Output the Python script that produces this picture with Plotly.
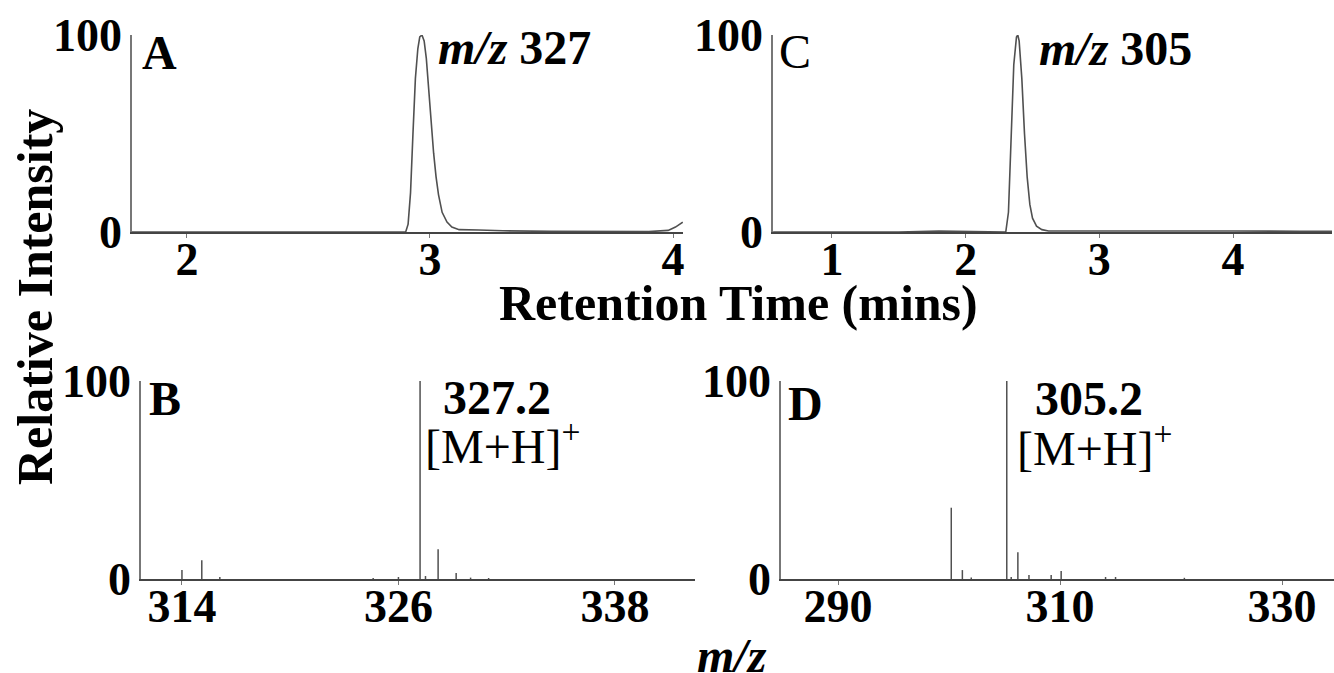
import plotly.graph_objects as go

W, H = 1334, 673

# ---- Data ----
# Panel A: chromatogram m/z 327
rt_a = [1.77, 2.5, 2.90, 2.91, 2.92, 2.93, 2.94, 2.95, 2.958, 2.967, 2.976, 2.985, 2.995,
        3.005, 3.015, 3.025, 3.035, 3.05, 3.07, 3.09, 3.12, 3.20, 3.30, 3.50, 3.90, 3.98, 4.01, 4.04]
int_a = [0, 0, 0, 4, 20, 50, 78, 93, 99, 100, 97, 88, 72,
         55, 40, 28, 19, 10, 5, 2.5, 1.2, 1.0, 0.6, 0.3, 0.2, 0.8, 2.5, 5]

# Panel C: chromatogram m/z 305
rt_c = [0.56, 1.5, 1.8, 2.0, 2.30, 2.32, 2.34, 2.36, 2.38, 2.39, 2.40, 2.42, 2.44, 2.46,
        2.48, 2.50, 2.53, 2.57, 2.62, 3.0, 3.5, 4.0, 4.5, 4.74]
int_c = [0, 0, 0.5, 0.3, 0, 10, 48, 85, 99, 100, 97, 78, 50, 28,
         14, 7, 3, 1.2, 0.5, 0.4, 0.6, 0.5, 0.4, 0.3]

# Panel B: mass spectrum (m/z, relative intensity)
mz_b = [314.0, 315.1, 316.1, 324.6, 326.0, 327.2, 327.5, 328.2, 329.2, 330.0, 331.0]
ab_b = [4.5, 9.5, 1.0, 0.5, 1.0, 100, 1.5, 15, 3, 0.7, 0.5]

# Panel D: mass spectrum
mz_d = [300.2, 301.2, 302.0, 305.2, 305.6, 306.2, 307.2, 309.2, 310.1, 314.1, 315.0, 321.2]
ab_d = [36, 4.5, 0.8, 100, 1.0, 13.5, 2.0, 2.0, 4.0, 1.0, 1.0, 0.6]

ticks_a = [2, 3, 4]
ticks_c = [1, 2, 3, 4]
ticks_b = [314, 326, 338]
ticks_d = [290, 310, 330]
yticks = [0, 100]

FONT = "Liberation Serif"
LINE = "#505050"


def px_x(p):
    return p / W


def px_y(p):
    return 1 - p / H


def sticks(xs, ys):
    sx, sy = [], []
    for m, v in zip(xs, ys):
        sx += [m, m, None]
        sy += [0, v, None]
    return sx, sy


fig = go.Figure()

fig.add_trace(go.Scatter(x=rt_a, y=int_a, mode="lines", line=dict(color=LINE, width=1.6),
                         xaxis="x", yaxis="y", showlegend=False))
fig.add_trace(go.Scatter(x=rt_c, y=int_c, mode="lines", line=dict(color=LINE, width=1.6),
                         xaxis="x2", yaxis="y2", showlegend=False))
bx, by = sticks(mz_b, ab_b)
fig.add_trace(go.Scatter(x=bx, y=by, mode="lines", line=dict(color=LINE, width=1.5),
                         xaxis="x3", yaxis="y3", showlegend=False))
dx, dy = sticks(mz_d, ab_d)
fig.add_trace(go.Scatter(x=dx, y=dy, mode="lines", line=dict(color=LINE, width=1.5),
                         xaxis="x4", yaxis="y4", showlegend=False))

tickfont = dict(family=FONT, size=46, color="black", weight="bold")


def xaxis(dom, rng, tv, anchor):
    return dict(domain=dom, range=rng, tickvals=tv, ticktext=[str(t) for t in tv],
                showgrid=False, zeroline=False, showline=True, linecolor="#444444", linewidth=2,
                ticks="outside", ticklen=4, tickcolor="#777777", tickwidth=1,
                tickfont=tickfont, anchor=anchor, fixedrange=True, automargin=False,
                ticklabelstandoff=-18)


def yaxis(dom, anchor):
    return dict(domain=dom, range=[0, 100], tickvals=yticks, ticktext=[str(t) for t in yticks],
                showgrid=False, zeroline=False, showline=True, linecolor="#777777", linewidth=1.5,
                ticks="", tickfont=tickfont, anchor=anchor, fixedrange=True, automargin=False,
                ticklabelstandoff=-1)


top_dom = [px_y(232), px_y(35)]
bot_dom = [px_y(579), px_y(381)]

fig.update_layout(
    template="none",
    width=W, height=H,
    margin=dict(l=0, r=0, t=0, b=0, pad=0, autoexpand=False),
    paper_bgcolor="white", plot_bgcolor="white",
    xaxis=xaxis([px_x(132), px_x(683)], [1.774, 4.041], ticks_a, "y"),
    yaxis=yaxis(top_dom, "x"),
    xaxis2=xaxis([px_x(773), px_x(1332)], [0.559, 4.74], ticks_c, "y2"),
    yaxis2=yaxis(top_dom, "x2"),
    xaxis3=xaxis([px_x(141), px_x(695)], [311.73, 342.44], ticks_b, "y3"),
    yaxis3=yaxis(bot_dom, "x3"),
    xaxis4=xaxis([px_x(781), px_x(1334)], [284.86, 334.68], ticks_d, "y4"),
    yaxis4=yaxis(bot_dom, "x4"),
)


def ann(text, xl, yc, size=48, bold=True, xanchor="left", angle=0):
    fig.add_annotation(text=text, x=px_x(xl), y=px_y(yc), xref="paper", yref="paper",
                       xanchor=xanchor, yanchor="middle", showarrow=False, textangle=angle,
                       font=dict(family=FONT, size=size, color="black",
                                 weight="bold" if bold else "normal"))


ann("A", 140, 53)
ann("<i>m/z</i> 327", 436, 48)
ann("C", 777, 52, bold=False)
ann("<i>m/z</i> 305", 1037, 49)
ann("Retention Time (mins)", 738, 303, size=50, xanchor="center")
ann("B", 147, 398)
ann("327.2", 441, 397)
ann("[M+H]<sup>+</sup>", 423, 443, bold=False)
ann("D", 786, 403)
ann("305.2", 1033, 398)
ann("[M+H]<sup>+</sup>", 1015, 445, bold=False)
ann("<i>m/z</i>", 695, 655)
ann("Relative Intensity", 35, 297, size=50, xanchor="center", angle=-90)

fig.write_html("out.html")
